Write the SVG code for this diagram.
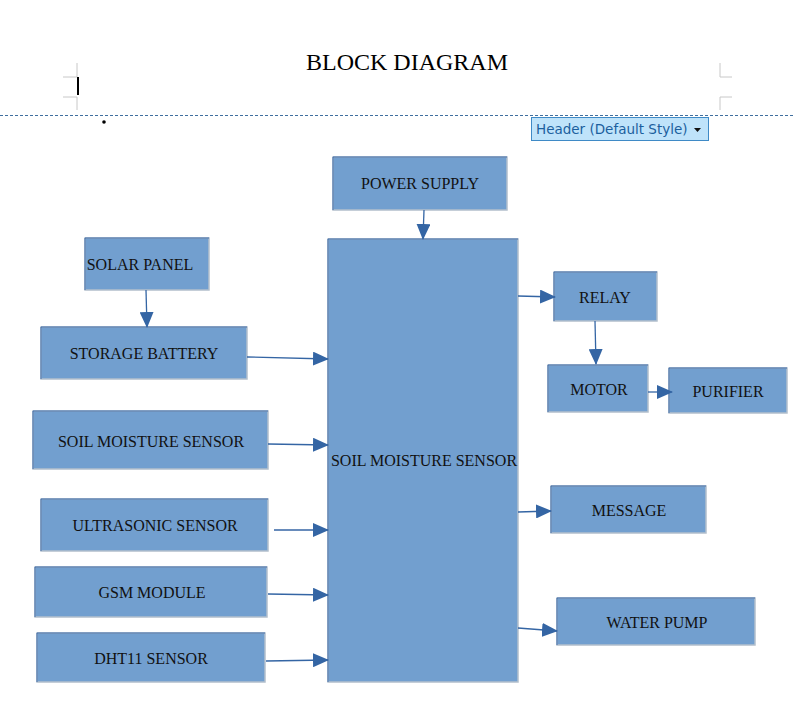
<svg xmlns="http://www.w3.org/2000/svg" width="794" height="710" viewBox="0 0 794 710">
<style>
.box{fill:#729fcf;stroke:#b3bfcc;stroke-width:1.5}
.edge{fill:none;stroke:#3a6aa8;stroke-width:1}
.lbl{font-family:"Liberation Serif",serif;font-size:16px;fill:#111;text-anchor:middle;dominant-baseline:central}
.conn{stroke:#3465a4;stroke-width:1.3;fill:none;marker-end:url(#ah)}
.mark{stroke:#c8c8c8;stroke-width:1;fill:none}
</style>
<defs>
<marker id="ah" markerUnits="userSpaceOnUse" markerWidth="16" markerHeight="14" viewBox="0 0 16 14" refX="15" refY="7" orient="auto">
<path d="M0,0 L16,7 L0,14 Z" fill="#3465a4"/>
</marker>
</defs>
<rect width="794" height="710" fill="#ffffff"/>
<text x="407" y="70" font-family="Liberation Serif,serif" font-size="24" text-anchor="middle" fill="#000">BLOCK DIAGRAM</text>
<g id="page-marks">
<path class="mark" d="M77,63 V77 H63 M63,97 H77 V110 M720,63 V77 H732 M732,97 H720 V110"/>
<rect x="77" y="77" width="2" height="18" fill="#000"/>
<line x1="0" y1="115.5" x2="794" y2="115.5" stroke="#3f6f9f" stroke-width="1" stroke-dasharray="3,2"/>
<circle cx="104" cy="122" r="1.8" fill="#000"/>
</g>
<g id="header-button">
<rect x="531.5" y="117.5" width="177" height="23" fill="#bfe3fa" stroke="#3f8ac6" stroke-width="1"/>
<text x="536" y="134" font-family="DejaVu Sans,sans-serif" font-size="13.5" fill="#1c5f9e">Header (Default Style)</text>
<path d="M694,128 L701,128 L697.5,132 Z" fill="#111"/>
</g>
<g id="power-supply"><rect class="box" x="333" y="157" width="174" height="53"/><path class="edge" d="M333,210 V157 H507"/><text class="lbl" x="420" y="183">POWER SUPPLY</text></g>
<g id="main"><rect class="box" x="328" y="239" width="190" height="443"/><path class="edge" d="M328,682 V239 H518"/><text class="lbl" x="424" y="460">SOIL MOISTURE SENSOR</text></g>
<g id="solar-panel"><rect class="box" x="85" y="238" width="124" height="52"/><path class="edge" d="M85,290 V238 H209"/><text class="lbl" x="140" y="264">SOLAR PANEL</text></g>
<g id="storage-battery"><rect class="box" x="41" y="327" width="206" height="52"/><path class="edge" d="M41,379 V327 H247"/><text class="lbl" x="144" y="353">STORAGE BATTERY</text></g>
<g id="soil-sensor"><rect class="box" x="33" y="411" width="235" height="58"/><path class="edge" d="M33,469 V411 H268"/><text class="lbl" x="151" y="441">SOIL MOISTURE SENSOR</text></g>
<g id="ultrasonic"><rect class="box" x="41" y="499" width="227" height="52"/><path class="edge" d="M41,551 V499 H268"/><text class="lbl" x="155" y="525">ULTRASONIC SENSOR</text></g>
<g id="gsm"><rect class="box" x="35" y="567" width="232" height="50"/><path class="edge" d="M35,617 V567 H267"/><text class="lbl" x="152" y="592">GSM MODULE</text></g>
<g id="dht11"><rect class="box" x="37" y="633" width="228" height="49"/><path class="edge" d="M37,682 V633 H265"/><text class="lbl" x="151" y="658">DHT11 SENSOR</text></g>
<g id="relay"><rect class="box" x="554" y="272" width="103" height="49"/><path class="edge" d="M554,321 V272 H657"/><text class="lbl" x="605" y="297">RELAY</text></g>
<g id="motor"><rect class="box" x="548" y="365" width="100" height="47"/><path class="edge" d="M548,412 V365 H648"/><text class="lbl" x="599" y="389">MOTOR</text></g>
<g id="purifier"><rect class="box" x="669" y="368" width="118" height="45"/><path class="edge" d="M669,413 V368 H787"/><text class="lbl" x="728" y="391">PURIFIER</text></g>
<g id="message"><rect class="box" x="551" y="486" width="155" height="47"/><path class="edge" d="M551,533 V486 H706"/><text class="lbl" x="629" y="510">MESSAGE</text></g>
<g id="water-pump"><rect class="box" x="557" y="598" width="198" height="47"/><path class="edge" d="M557,645 V598 H755"/><text class="lbl" x="657" y="622">WATER PUMP</text></g>
<g id="connectors">
<line class="conn" x1="424" y1="210" x2="423" y2="239"/>
<line class="conn" x1="146" y1="290" x2="147" y2="327"/>
<line class="conn" x1="247" y1="357" x2="328" y2="359"/>
<line class="conn" x1="268" y1="444" x2="328" y2="445"/>
<line class="conn" x1="274" y1="530" x2="328" y2="530"/>
<line class="conn" x1="268" y1="594" x2="328" y2="595"/>
<line class="conn" x1="266" y1="661" x2="328" y2="660"/>
<line class="conn" x1="518" y1="296" x2="555" y2="297"/>
<line class="conn" x1="595" y1="321" x2="596" y2="364"/>
<line class="conn" x1="648" y1="392" x2="672" y2="392"/>
<line class="conn" x1="518" y1="512" x2="551" y2="511"/>
<line class="conn" x1="518" y1="628" x2="557" y2="631"/>
</g>
</svg>
